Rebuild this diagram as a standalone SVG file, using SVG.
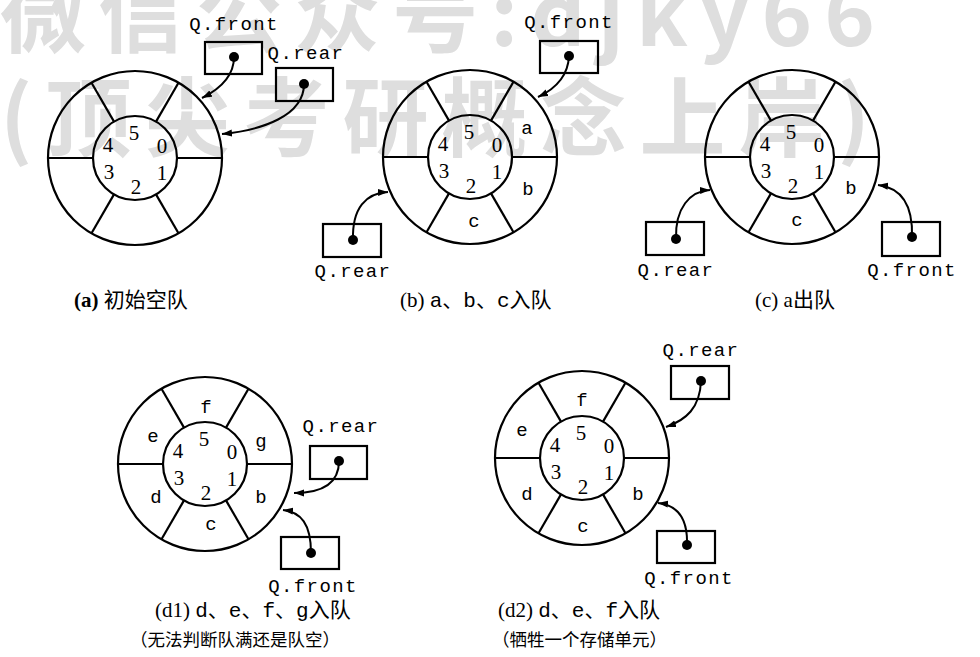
<svg xmlns="http://www.w3.org/2000/svg" xmlns:xlink="http://www.w3.org/1999/xlink" width="980" height="657" viewBox="0 0 980 657">
<style>
.ln{fill:none;stroke:#000;stroke-width:2.2}
.box{fill:none;stroke:#000;stroke-width:2.2}
.dot{fill:#000}
.dig{font-family:"Liberation Serif",serif;font-size:21px;fill:#000;text-anchor:middle}
.let{font-family:"Liberation Mono",monospace;font-size:19px;fill:#000;text-anchor:middle}
.lbl{font-family:"Liberation Mono",monospace;font-size:19px;letter-spacing:1.4px;fill:#000;text-anchor:middle}
.cap{font-family:"Liberation Serif","Noto Sans CJK SC",serif;font-size:21px;fill:#000}
.cap2{font-family:"Liberation Serif","Noto Sans CJK SC",serif;font-size:17.5px;fill:#000}
.mono{font-family:"Liberation Mono",monospace}
.wm{font-family:"Noto Sans CJK SC","Liberation Sans",sans-serif;font-weight:bold;font-size:86px;fill:#dedede}
.arr{fill:none;stroke:#000;stroke-width:2}
</style>
<defs>
<marker id="ah" markerUnits="userSpaceOnUse" markerWidth="11" markerHeight="8" refX="10" refY="4" orient="auto">
<path d="M0,0.5 L10,4 L0,7.5 z" fill="#000"/>
</marker>
<g id="ring">
<circle r="87" class="ln"/>
<circle r="42" class="ln"/>
<line x1="42" y1="0" x2="87" y2="0" class="ln"/>
<line x1="-42" y1="0" x2="-87" y2="0" class="ln"/>
<line x1="21" y1="36.4" x2="43.5" y2="75.3" class="ln"/>
<line x1="-21" y1="36.4" x2="-43.5" y2="75.3" class="ln"/>
<line x1="21" y1="-36.4" x2="43.5" y2="-75.3" class="ln"/>
<line x1="-21" y1="-36.4" x2="-43.5" y2="-75.3" class="ln"/>
<text class="dig" x="-1" y="-18">5</text>
<text class="dig" x="-27" y="-6">4</text>
<text class="dig" x="27" y="-5">0</text>
<text class="dig" x="-26" y="21">3</text>
<text class="dig" x="1" y="36">2</text>
<text class="dig" x="27" y="22">1</text>
</g>
</defs>
<rect width="980" height="657" fill="#fff"/>
<g id="watermark">
<text class="wm" x="0" y="46" textLength="875" lengthAdjust="spacing">微信公众号:djky66</text>
<text class="wm" x="0" y="150" textLength="870" lengthAdjust="spacing">(顶尖考研概念上岸)</text>
</g>

<g id="queue-a">
<use xlink:href="#ring" href="#ring" x="135" y="158"/>
</g>
<g id="a-front">
<text class="lbl" x="234" y="30">Q.front</text>
<rect class="box" x="205" y="42" width="57" height="32"/>
<circle class="dot" cx="234" cy="57" r="5"/>
</g>
<g id="a-rear">
<text class="lbl" x="306" y="59">Q.rear</text>
<rect class="box" x="276" y="68" width="57" height="33"/>
<circle class="dot" cx="304" cy="84" r="5"/>
</g>
<text class="cap" x="74" y="307"><tspan font-weight="bold">(a)</tspan> 初始空队</text>

<g id="queue-b">
<use xlink:href="#ring" href="#ring" x="470" y="157"/>
<text class="let" x="527" y="134">a</text>
<text class="let" x="528" y="195">b</text>
<text class="let" x="474" y="227">c</text>
</g>
<g id="b-front">
<text class="lbl" x="569" y="28">Q.front</text>
<rect class="box" x="540" y="41" width="58" height="32"/>
<circle class="dot" cx="569" cy="56" r="5"/>
</g>
<g id="b-rear">
<rect class="box" x="323" y="224" width="58" height="33"/>
<circle class="dot" cx="353" cy="240" r="5"/>
<text class="lbl" x="353" y="277">Q.rear</text>
</g>
<text class="cap" x="400" y="307">(b) <tspan class="mono">a</tspan>、<tspan class="mono">b</tspan>、<tspan class="mono">c</tspan>入队</text>

<g id="queue-c">
<use xlink:href="#ring" href="#ring" x="792" y="157"/>
<text class="let" x="851" y="194">b</text>
<text class="let" x="797" y="226">c</text>
</g>
<g id="c-rear">
<rect class="box" x="646" y="222" width="58" height="33"/>
<circle class="dot" cx="676" cy="239" r="5"/>
<text class="lbl" x="676" y="276">Q.rear</text>
</g>
<g id="c-front">
<rect class="box" x="882" y="222" width="58" height="34"/>
<circle class="dot" cx="912" cy="237" r="5"/>
<text class="lbl" x="912" y="276">Q.front</text>
</g>
<text class="cap" x="755" y="307">(c) a出队</text>

<g id="queue-d1">
<use xlink:href="#ring" href="#ring" x="205" y="464"/>
<text class="let" x="206" y="413">f</text>
<text class="let" x="153" y="442">e</text>
<text class="let" x="261" y="447">g</text>
<text class="let" x="156" y="503">d</text>
<text class="let" x="261" y="503">b</text>
<text class="let" x="211" y="530">c</text>
</g>
<g id="d1-rear">
<text class="lbl" x="341" y="432">Q.rear</text>
<rect class="box" x="310" y="446" width="57" height="33"/>
<circle class="dot" cx="339" cy="461" r="5"/>
</g>
<g id="d1-front">
<rect class="box" x="281" y="537" width="58" height="32"/>
<circle class="dot" cx="311" cy="553" r="5"/>
<text class="lbl" x="313" y="592">Q.front</text>
</g>
<text class="cap" x="155" y="617">(d1) <tspan class="mono">d</tspan>、<tspan class="mono">e</tspan>、<tspan class="mono">f</tspan>、<tspan class="mono">g</tspan>入队</text>
<text class="cap2" x="130" y="646">（无法判断队满还是队空）</text>

<g id="queue-d2">
<use xlink:href="#ring" href="#ring" x="582" y="458"/>
<text class="let" x="582" y="406">f</text>
<text class="let" x="522" y="436">e</text>
<text class="let" x="527" y="500">d</text>
<text class="let" x="638" y="500">b</text>
<text class="let" x="583" y="532">c</text>
</g>
<g id="d2-rear">
<text class="lbl" x="701" y="356">Q.rear</text>
<rect class="box" x="671" y="366" width="58" height="33"/>
<circle class="dot" cx="701" cy="381" r="5"/>
</g>
<g id="d2-front">
<rect class="box" x="657" y="531" width="58" height="32"/>
<circle class="dot" cx="687" cy="545" r="5"/>
<text class="lbl" x="689" y="584">Q.front</text>
</g>
<text class="cap" x="498" y="617">(d2) <tspan class="mono">d</tspan>、<tspan class="mono">e</tspan>、<tspan class="mono">f</tspan>入队</text>
<text class="cap2" x="492" y="646">（牺牲一个存储单元）</text>

<g id="connectors">
<path class="arr" marker-end="url(#ah)" d="M234,57 C234,78 218,90 202,98"/>
<path class="arr" marker-end="url(#ah)" d="M304,84 C304,116 262,130 222,134"/>
<path class="arr" marker-end="url(#ah)" d="M569,56 C568,78 553,90 538,97"/>
<path class="arr" marker-end="url(#ah)" d="M353,240 C352,208 366,193 388,192"/>
<path class="arr" marker-end="url(#ah)" d="M676,239 C675,208 690,191 710,190"/>
<path class="arr" marker-end="url(#ah)" d="M912,237 C913,206 903,188 878,185"/>
<path class="arr" marker-end="url(#ah)" d="M339,461 C339,485 320,493 294,493"/>
<path class="arr" marker-end="url(#ah)" d="M311,553 C311,524 301,512 283,510"/>
<path class="arr" marker-end="url(#ah)" d="M701,381 C700,408 686,420 666,427"/>
<path class="arr" marker-end="url(#ah)" d="M687,545 C688,516 676,505 658,503"/>
</g>
</svg>
